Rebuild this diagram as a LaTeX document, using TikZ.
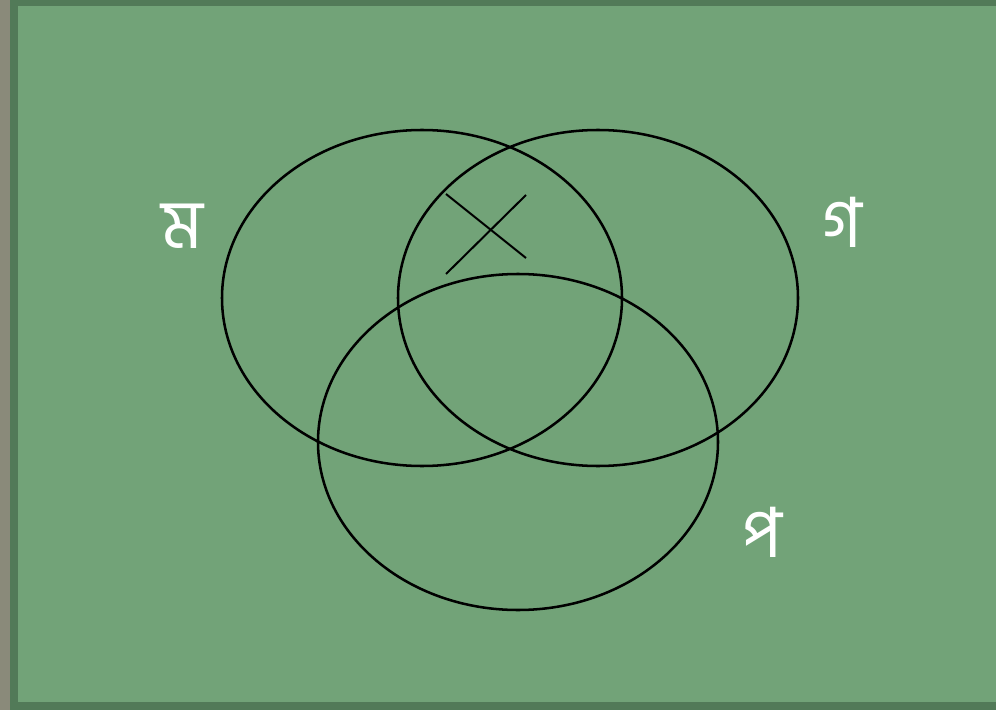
\documentclass[tikz,border=0pt]{standalone}
\usepackage{fontspec}
\newfontfamily\bnfont[Script=Bengali]{Hind Siliguri}
\usetikzlibrary{positioning}
\definecolor{boardgreen}{RGB}{114,163,120}
\definecolor{boardedge}{RGB}{82,122,88}
\definecolor{wallgray}{RGB}{138,138,122}
\tikzset{
  vennset/.style={draw=black, line width=1.9pt},
  crossline/.style={draw=black, line width=1.5pt},
  setlabel/.style={text=white, font=\bnfont\fontsize{52}{56}\selectfont, inner sep=0pt},
}
\begin{document}
\begin{tikzpicture}[x=0.75pt, y=-0.75pt]
  \useasboundingbox (0,0) rectangle (996,710);
  % board
  \fill[wallgray] (0,0) rectangle (10,710);
  \fill[boardedge] (10,0) rectangle (996,710);
  \fill[boardgreen] (18,6) rectangle (996,702);
  % sets
  \coordinate (cM) at (422,298);
  \coordinate (cG) at (598,298);
  \coordinate (cP) at (518,442);
  \draw[vennset] (cM) ellipse [x radius=200, y radius=168];
  \draw[vennset] (cG) ellipse [x radius=200, y radius=168];
  \draw[vennset] (cP) ellipse [x radius=200, y radius=168];
  % cross
  \coordinate (x1) at (446,194);
  \coordinate (x2) at (526,258);
  \coordinate (x3) at (446,274);
  \coordinate (x4) at (526,195);
  \draw[crossline] (x1) -- (x2);
  \draw[crossline] (x3) -- (x4);
  % labels
  \node (lM) [setlabel] at (182,226) {ম};
  \node (lG) [setlabel] at (842,222) {গ};
  \node (lP) [setlabel] at (762,532) {প};
\end{tikzpicture}
\end{document}
